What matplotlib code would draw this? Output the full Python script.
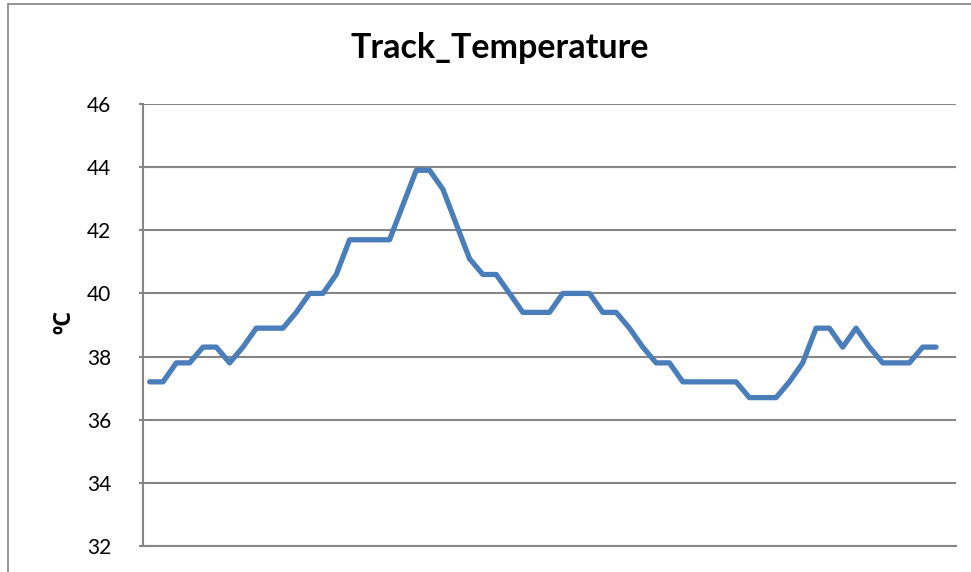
import matplotlib
matplotlib.use("Agg")
import matplotlib.pyplot as plt
from matplotlib.patches import Rectangle

title = "Track_Temperature"
ylabel = "ºC"
yticks = [32, 34, 36, 38, 40, 42, 44, 46]
temps = [37.2, 37.2, 37.8, 37.8, 38.3, 38.3, 37.8, 38.3, 38.9, 38.9,
         38.9, 39.4, 40.0, 40.0, 40.6, 41.7, 41.7, 41.7, 41.7, 42.8,
         43.9, 43.9, 43.3, 42.2, 41.1, 40.6, 40.6, 40.0, 39.4, 39.4,
         39.4, 40.0, 40.0, 40.0, 39.4, 39.4, 38.9, 38.3, 37.8, 37.8,
         37.2, 37.2, 37.2, 37.2, 37.2, 36.7, 36.7, 36.7, 37.2, 37.8,
         38.9, 38.9, 38.3, 38.9, 38.3, 37.8, 37.8, 37.8, 38.3, 38.3]
n_categories = 61
samples = list(range(len(temps)))

W, H = 971, 572
fig = plt.figure(figsize=(W / 100, H / 100), dpi=100)
plt.rcParams['font.family'] = ['Lato', 'DejaVu Sans']

# chart border (cropped at right/bottom)
fig.patches.append(Rectangle((8 / W, -0.1), 1.2, (H - 4) / H + 0.1,
                             transform=fig.transFigure, fill=False,
                             edgecolor='#8c8c8c', linewidth=1.3, zorder=0))

ax = fig.add_axes([143 / W, 26 / H, (956 - 143) / W, (546 - 104) / H])
ax.plot(samples, temps, color='#4A7EBB', linewidth=3.8,
        solid_joinstyle='round', solid_capstyle='round', zorder=3)

ax.set_xlim(-0.5, n_categories - 0.5)
ax.set_ylim(32, 46)
ax.set_yticks(yticks)
ax.set_yticklabels([str(t) for t in yticks], fontsize=15)
ax.yaxis.grid(True, color='#868686', linewidth=1.5)
ax.set_axisbelow(True)
ax.set_xticks([])
for s in ['top', 'right']:
    ax.spines[s].set_visible(False)
for s in ['left', 'bottom']:
    ax.spines[s].set_color('#868686')
    ax.spines[s].set_linewidth(1.5)
ax.tick_params(axis='y', length=3, width=1.5, color='#868686', pad=20)

fig.text(500 / W, (H - 48) / H, title, ha='center', va='center',
         fontsize=24.5, fontweight='bold')
fig.text(64 / W, (H - 322) / H, ylabel, ha='center', va='center',
         rotation=90, fontsize=17, fontweight='bold',
         family=['Open Sans', 'DejaVu Sans'])

fig.savefig("out.png", dpi=100)
